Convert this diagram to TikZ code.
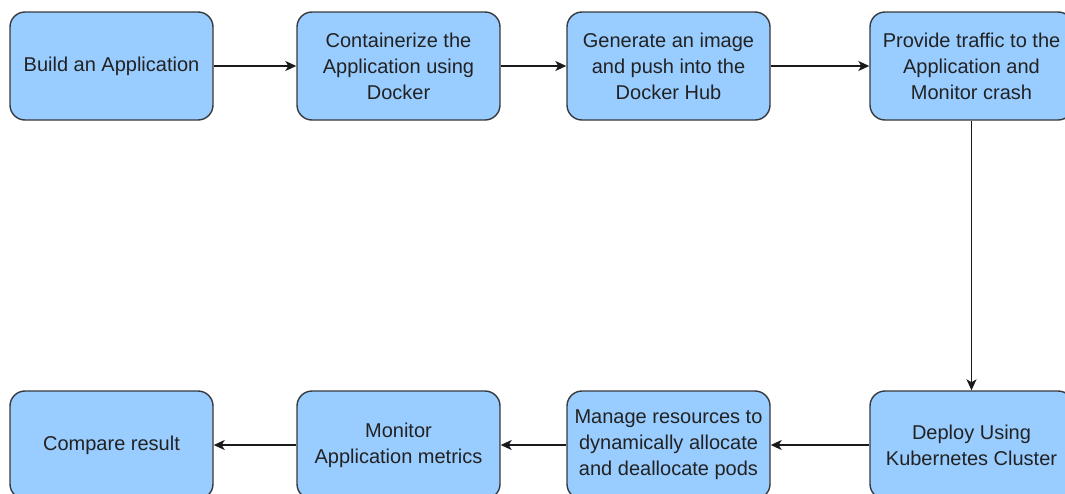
\documentclass[tikz,border=0pt]{standalone}
\usepackage{fontspec}
\setmainfont{Liberation Sans}
\usetikzlibrary{arrows.meta}
\definecolor{boxfill}{HTML}{99CCFF}
\definecolor{boxline}{HTML}{36393D}
\definecolor{txt}{HTML}{222222}
\definecolor{conn}{HTML}{1A1A1A}
\begin{document}
\begin{tikzpicture}[x=1pt,y=-1pt,
  stepbox/.style={draw=boxline, fill=boxfill, line width=1.4pt, rounded corners=15pt,
    minimum width=203pt, minimum height=108pt, inner sep=0pt, align=center,
    text=txt, font=\fontsize{20}{26}\selectfont},
  flow/.style={draw=conn, line width=1.4pt, -{Stealth[length=11pt,width=10pt,inset=3pt]}}]
\useasboundingbox (0,0) rectangle (1065,493);
\clip (0,0) rectangle (1065,493);
\node[stepbox] (b1) at (111.5,66) {Build an Application};
\node[stepbox] (b2) at (398.5,66) {Containerize the\\Application using\\Docker};
\node[stepbox] (b3) at (668.5,66) {Generate an image\\and push into the\\Docker Hub};
\node[stepbox] (b4) at (971.5,66) {Provide traffic to the\\Application and\\Monitor crash};
\node[stepbox] (b8) at (971.5,445) {Deploy Using\\Kubernetes Cluster};
\node[stepbox] (b7) at (668.5,445) {Manage resources to\\dynamically allocate\\and deallocate pods};
\node[stepbox] (b6) at (398.5,445) {Monitor\\Application metrics};
\node[stepbox] (b5) at (111.5,445) {Compare result};
\draw[flow] (b1) -- (b2);
\draw[flow] (b2) -- (b3);
\draw[flow] (b3) -- (b4);
\draw[flow] (b4) -- (b8);
\draw[flow] (b8) -- (b7);
\draw[flow] (b7) -- (b6);
\draw[flow] (b6) -- (b5);
\end{tikzpicture}
\end{document}
